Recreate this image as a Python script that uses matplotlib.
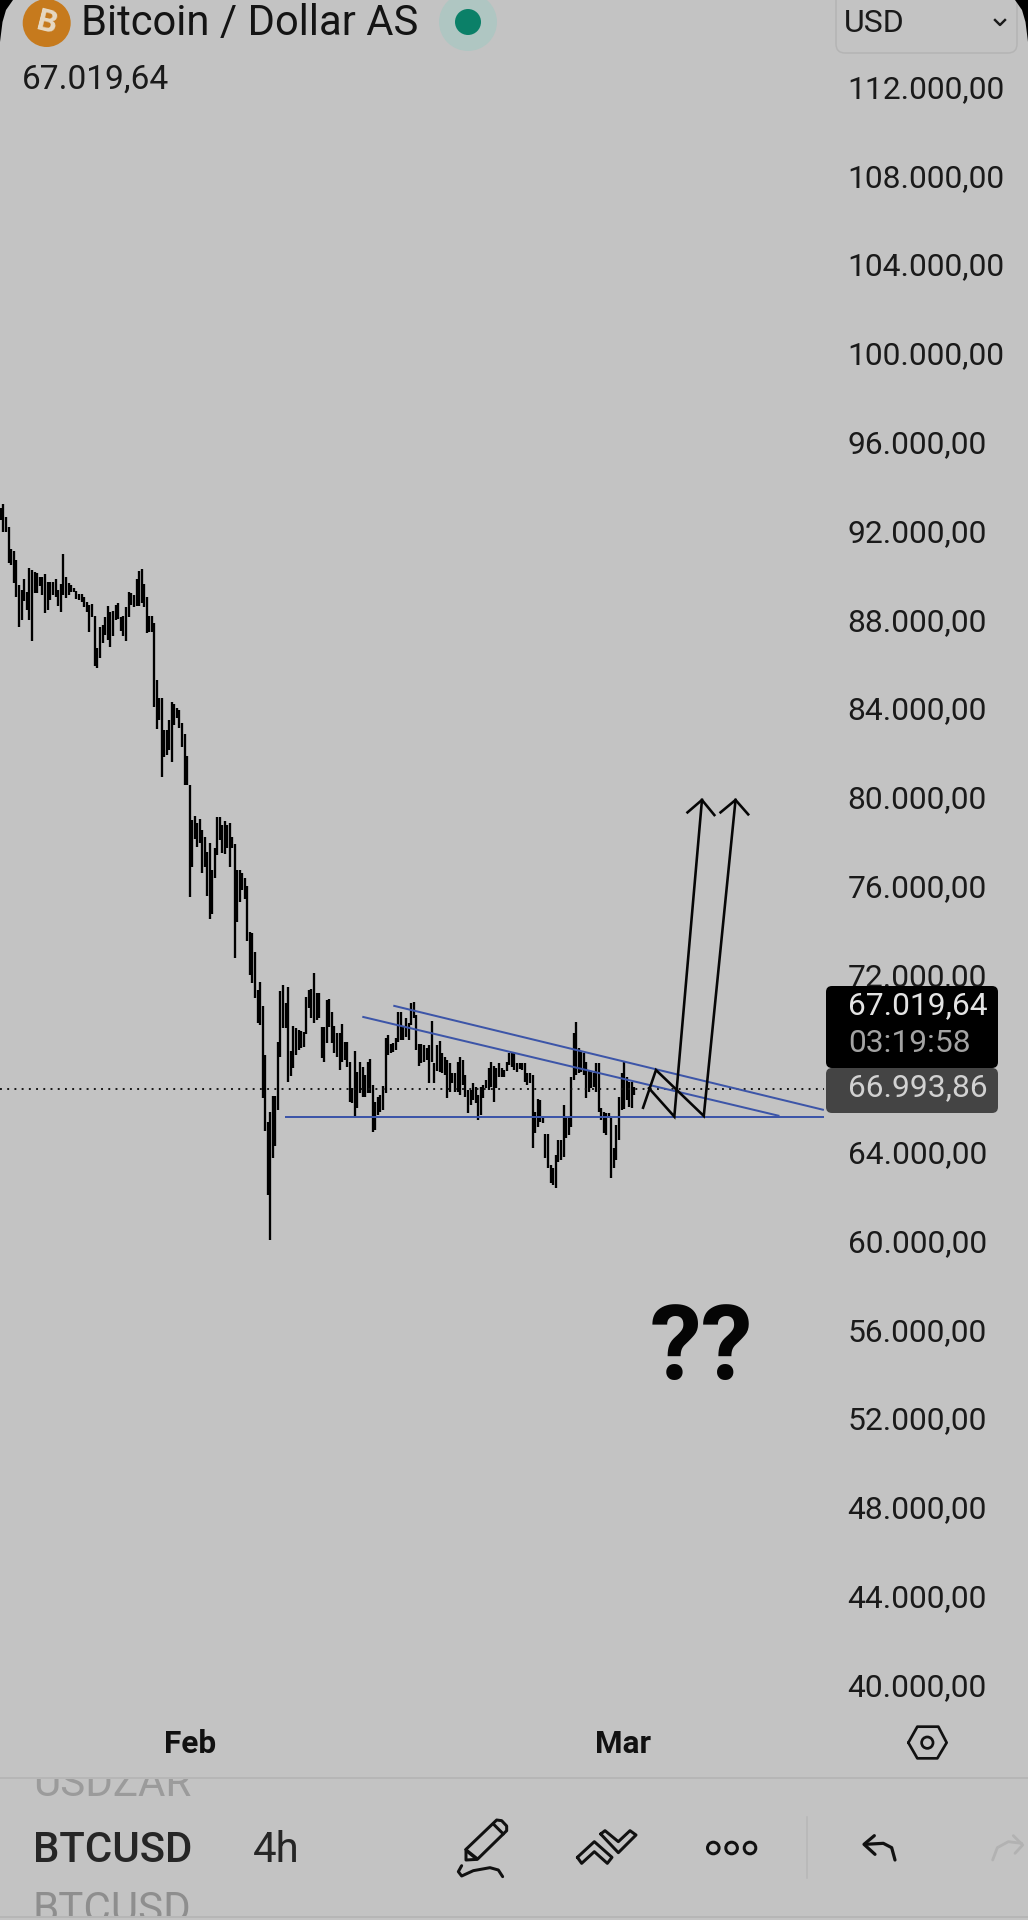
import numpy as np
import matplotlib
matplotlib.use("Agg")
import matplotlib.pyplot as plt
from matplotlib.patches import Circle, FancyBboxPatch, Polygon, Rectangle
from matplotlib.transforms import ScaledTranslation

# ---------- data (thousand USD, 4h bars) ----------
highs = [93.05,93.25,92.65,92.23,91.2,91.15,90.72,89.58,89.37,89.87,89.3,90.35,90.27,90.17,90.12,89.97,89.94,90.09,89.72,89.72,
 89.75,89.85,89.37,89.64,91.0,89.94,89.7,89.6,89.45,89.34,89.19,89.19,89.04,88.85,88.7,88.74,88.22,86.74,87.72,87.8,
 88.14,88.65,88.4,88.43,88.7,88.77,88.17,88.2,88.62,89.27,89.22,89.15,89.87,90.24,90.32,89.63,89.07,88.2,88.22,87.87,
 85.32,84.49,84.49,83.07,83.07,83.52,84.34,84.24,84.04,83.97,83.37,82.89,81.89,80.59,79.01,79.2,78.86,79.04,78.56,78.26,
 77.58,77.96,76.76,77.73,79.16,79.13,78.78,78.98,78.78,78.86,78.26,77.93,76.76,76.76,76.61,76.38,76.04,73.98,73.9,73.08,
 71.35,71.72,70.63,68.42,65.41,65.83,66.57,66.57,68.99,71.32,71.57,70.75,71.5,68.6,69.74,69.62,69.54,69.51,69.47,71.02,
 71.35,71.38,72.1,71.2,71.2,69.66,69.69,70.9,70.93,70.37,69.72,69.39,69.39,69.82,69.02,69.02,68.12,66.92,68.61,67.67,
 68.12,67.89,67.52,68.12,68.22,67.07,66.29,66.54,66.62,67.04,69.17,69.32,68.91,68.94,69.17,70.37,70.37,69.69,70.07,69.85,
 70.75,70.79,70.22,68.91,68.91,68.87,68.72,68.87,69.95,68.04,68.87,69.06,68.49,68.34,68.19,68.04,67.59,67.59,68.12,68.31,
 68.19,67.52,66.84,66.84,67.14,66.99,66.62,66.99,67.07,67.29,67.82,68.12,67.92,67.82,68.04,67.82,67.74,68.12,68.49,68.57,
 68.49,68.04,68.04,68.04,68.04,67.59,67.59,67.52,65.87,66.42,66.39,65.57,64.84,64.84,63.46,63.31,63.91,64.59,64.59,66.17,
 65.57,65.57,67.44,69.43,69.89,68.72,68.57,68.49,68.12,67.74,67.67,67.59,68.04,68.04,66.02,65.87,65.79,65.79,65.64,64.21,
 65.26,66.54,67.59,68.09,67.44,67.22,67.22,66.96]
lows = [92.53,92.0,92.0,90.57,90.5,89.67,89.07,87.69,88.02,88.89,88.47,88.02,87.09,89.22,89.22,89.55,89.15,88.32,88.47,88.92,
 89.15,89.07,88.65,88.37,89.15,89.0,89.15,89.3,89.3,88.95,88.92,88.85,88.59,88.37,87.5,88.14,85.95,85.87,86.29,86.97,
 87.35,87.12,86.82,87.3,88.02,88.05,87.54,87.3,87.08,88.17,88.7,88.62,88.65,88.65,88.77,88.62,87.45,87.5,87.5,84.12,
 83.1,83.52,80.96,81.86,81.94,82.16,81.64,83.29,83.59,83.14,82.31,80.59,80.59,75.52,76.88,78.14,77.81,77.96,76.64,76.91,
 75.56,74.53,74.77,76.41,77.43,78.11,77.51,77.48,77.76,76.91,77.73,72.78,74.43,75.3,75.86,75.46,73.57,72.03,71.66,70.99,
 69.85,69.77,66.47,65.01,62.11,60.08,63.79,64.32,65.94,68.31,69.62,69.62,67.19,67.47,67.82,68.42,68.64,68.72,68.79,69.36,
 70.52,70.07,69.85,70.0,70.07,68.27,68.12,68.94,69.66,68.94,68.49,68.34,67.74,68.12,68.19,67.89,66.32,66.24,65.61,66.01,
 66.69,66.54,66.51,66.69,66.69,64.96,65.04,65.71,65.86,65.94,66.72,68.42,68.49,68.57,68.64,69.02,69.09,69.09,69.24,69.09,
 69.77,70.07,68.64,67.92,68.04,68.12,68.19,67.14,68.12,67.14,67.71,67.67,67.59,67.52,66.47,66.77,67.14,66.77,66.77,66.62,
 67.07,66.54,65.79,66.17,66.39,66.24,65.49,65.71,66.47,66.92,66.84,66.99,66.32,66.92,67.44,67.41,67.44,67.71,67.97,67.89,
 67.74,67.67,67.77,67.74,67.22,67.07,67.14,64.21,64.89,65.19,65.41,65.34,63.76,63.31,62.64,62.56,62.41,63.61,63.69,63.84,
 64.66,64.81,65.19,67.29,67.52,67.59,67.67,67.52,66.47,66.77,66.92,66.99,66.77,65.87,65.49,64.89,64.81,65.57,62.89,63.31,
 63.69,64.59,65.94,66.0,66.39,66.09,66.02,66.62]
# time position of a few read-off bars (list index -> time axis)
anchor_index = [0, 54, 105, 122, 160, 224, 247]
anchor_time = [0, 54.6, 104.3, 121.3, 158.9, 222.9, 245.2]
price_ticks = list(range(40, 113, 4))
month_labels = ["Feb", "Mar"]
month_bars = [73.3, 240.9]
current_price = 67.01964
line_price = 66.88
support = ([110.1, 318.7], [65.64, 65.64])
trend_upper = ([152.0, 318.7], [70.64, 65.94])
trend_lower = ([140.0, 301.5], [70.14, 65.67])
path_a_x = [248.7, 253.7, 272.2, 284.5]
path_a_y = [66.04, 67.74, 65.67, 79.91]
head_a_x = [278.7, 284.5, 289.4]
head_a_y = [79.35, 79.91, 79.26]
path_b_x = [251.0, 260.8, 271.5]
path_b_y = [66.92, 65.64, 79.91]
head_b_x = [265.9, 271.5, 276.3]
head_b_y = [79.35, 79.91, 79.23]

W, H = 1028, 1920
BG = "#c3c3c3"
UI = ["Roboto", "DejaVu Sans"]
PT = 72 / 100  # 1 px in points at dpi 100
plt.rcParams["font.family"] = UI

fig = plt.figure(figsize=(W / 100, H / 100), dpi=100, facecolor=BG)

# ---------- chart axes ----------
AX_R, AX_B = 824, 1720
ax = fig.add_axes([0, 1 - AX_B / H, AX_R / W, AX_B / H], facecolor=BG)
ppk = 22.19
ax.set_ylim(64 + (1153 - AX_B) / ppk, 64 + 1153 / ppk)
ax.set_xlim(-0.27, 318.75)
for s in ax.spines.values():
    s.set_visible(False)

n = min(len(highs), len(lows))
bars = np.interp(np.arange(n), anchor_index, anchor_time)
ax.vlines(bars, lows[:n], highs[:n], color="#000000", lw=2.3 * PT, zorder=2)

ax.axhline(line_price, color="#111111", lw=1.9 * PT, ls=(0, (1, 2.8)), zorder=3)

BLUE = "#3c55a8"
for xs, ys in (support, trend_upper, trend_lower):
    ax.plot(xs, ys, color=BLUE, lw=2.0 * PT, zorder=4, solid_capstyle="butt")
for xs, ys in ((path_a_x, path_a_y), (head_a_x, head_a_y), (path_b_x, path_b_y), (head_b_x, head_b_y)):
    ax.plot(xs, ys, color="#050505", lw=2.6 * PT, zorder=5, solid_joinstyle="miter")

ax.yaxis.tick_right()
ax.set_yticks(price_ticks)
ax.set_yticklabels([f"{p}.000,00" for p in price_ticks], fontsize=31.8 * PT, color="#1a1a1a")
ax.tick_params(axis="y", length=0, pad=23.5 * PT)
shift_up = ScaledTranslation(0, 1.3 / 100, fig.dpi_scale_trans)
for lab in ax.get_yticklabels():
    lab.set_transform(lab.get_transform() + shift_up)
ax.set_xticks(month_bars)
ax.set_xticklabels(month_labels, fontsize=31.5 * PT, fontweight="bold", color="#111111")
ax.tick_params(axis="x", length=0, pad=9 * PT)

# ---------- overlay in pixels ----------
ov = fig.add_axes([0, 0, 1, 1], facecolor="none", zorder=10)
ov.set_xlim(0, W)
ov.set_ylim(H, 0)
ov.axis("off")


def txt(x, y, s, px, color="#1a1a1a", **kw):
    kw.setdefault("va", "center")
    kw.setdefault("ha", "left")
    return ov.text(x, y, s, fontsize=px * PT, color=color, **kw)


# price labels
ov.add_patch(FancyBboxPatch((826, 986), 172, 82, boxstyle="round,pad=0,rounding_size=6", fc="#000000", ec="none", zorder=2))
ov.add_patch(FancyBboxPatch((826, 1068), 172, 45, boxstyle="round,pad=0,rounding_size=6", fc="#444444", ec="none", zorder=2))
txt(848, 1006, f"{current_price * 1000:,.2f}".replace(",", "#").replace(".", ",").replace("#", "."), 31.8, "#e4e4e4", zorder=3)
txt(848, 1043, "03:19:58", 31.8, "#a3a3a3", zorder=3)
txt(848, 1088, "66.993,86", 31.8, "#d2d2d2", zorder=3)

# question marks
txt(701, 1351, "??", 104, "#050505", ha="center", fontweight="bold")

# header
ov.add_patch(Circle((46.7, 23), 24, fc="#c67a1d", ec="none"))
txt(47.5, 23, "B", 32, "#e6d9c4", ha="center", fontweight="bold", rotation=-14)
txt(81, 23, "Bitcoin / Dollar AS", 41.8, "#141414")
ov.add_patch(Circle((468, 22), 29, fc="#afc6c2", ec="none"))
ov.add_patch(Circle((468, 22), 13, fc="#0b8068", ec="none"))
txt(22, 80, "67.019,64", 33.5, "#1a1a1a")
ov.add_patch(FancyBboxPatch((836, -20), 181, 73, boxstyle="round,pad=0,rounding_size=9", fc="none", ec="#b4b4b4", lw=1.5 * PT))
txt(844, 23, "USD", 32, "#1a1a1a")
ov.plot([995, 1000, 1005], [20, 25, 20], color="#1a1a1a", lw=2.4 * PT)
ov.add_patch(Polygon([(0, 0), (13, 0), (6, 10), (2.5, 22), (0, 42)], fc="#000000", ec="none"))
ov.add_patch(Polygon([(W, 0), (W - 13, 0), (W - 6, 10), (W - 2.5, 22), (W, 42)], fc="#000000", ec="none"))


def pl(pts, ox, oy, color="#111111", lw=3.0, closed=False):
    """icon outline from crop coordinates (3x) with crop origin ox, oy"""
    p = [(ox + x / 3, oy + y / 3) for x, y in pts]
    if closed:
        p = p + [p[0]]
    ov.plot([a for a, _ in p], [b for _, b in p], color=color, lw=lw * PT,
            solid_joinstyle="round", solid_capstyle="round")


# bottom rules
ov.plot([0, W], [1778, 1778], color="#b6b6b6", lw=2 * PT)
ov.plot([0, W], [1917, 1917], color="#b6b6b6", lw=2 * PT)

# settings hexagon
pl([(205, 83), (232, 35), (295, 35), (320, 83), (292, 130), (232, 130)], 840, 1715, lw=2.7, closed=True)
ov.add_patch(Circle((840 + 262 / 3, 1715 + 83 / 3), 5.7, fc="none", ec="#111111", lw=2.7 * PT))

# bottom bar text
clip_top = Rectangle((0, 1779), W, 137, transform=ov.transData)
for yy, label, col in ((1785, "USDZAR", "#9b9b9b"), (1910, "BTCUSD", "#8e8e8e")):
    t = txt(33, yy, label, 42, col)
    t.set_clip_on(True)
    t.set_clip_path(clip_top)
txt(33, 1850, "BTCUSD", 42, "#262626", fontweight="medium")
txt(253, 1850, "4h", 42, "#262626")

# pencil
pl([(78, 148), (170, 60), (185, 62), (200, 78), (200, 92), (112, 178), (78, 180)], 440, 1800, closed=True)
pl([(160, 72), (190, 102)], 440, 1800)
pl([(80, 152), (110, 176)], 440, 1800, lw=3.6)
pl([(65, 197), (55, 215), (65, 228), (100, 212), (150, 203), (175, 210), (188, 230)], 440, 1800)
# drawing tools
pl([(412, 172), (463, 125), (516, 172), (502, 190), (463, 155), (425, 190)], 440, 1800, closed=True)
pl([(482, 102), (495, 92), (535, 125), (570, 92), (588, 105), (535, 158)], 440, 1800, closed=True)
# dots
for cx in (713.3, 731.6, 750):
    ov.add_patch(Circle((cx, 1848), 5.8, fc="none", ec="#111111", lw=3 * PT))
# divider
ov.plot([806.5, 806.5], [1817, 1878], color="#b6b6b6", lw=1.5 * PT)
# undo / redo
pl([(103, 362), (72, 388), (105, 418)], 840, 1715, lw=3.2)
pl([(75, 388), (130, 385), (155, 398), (165, 435)], 840, 1715, lw=3.2)
pl([(520, 362), (548, 390), (525, 415)], 840, 1715, color="#b2b2b2", lw=2.8)
pl([(545, 385), (505, 380), (472, 398), (458, 435)], 840, 1715, color="#b2b2b2", lw=2.8)

fig.savefig("out.png", dpi=100, facecolor=BG)
